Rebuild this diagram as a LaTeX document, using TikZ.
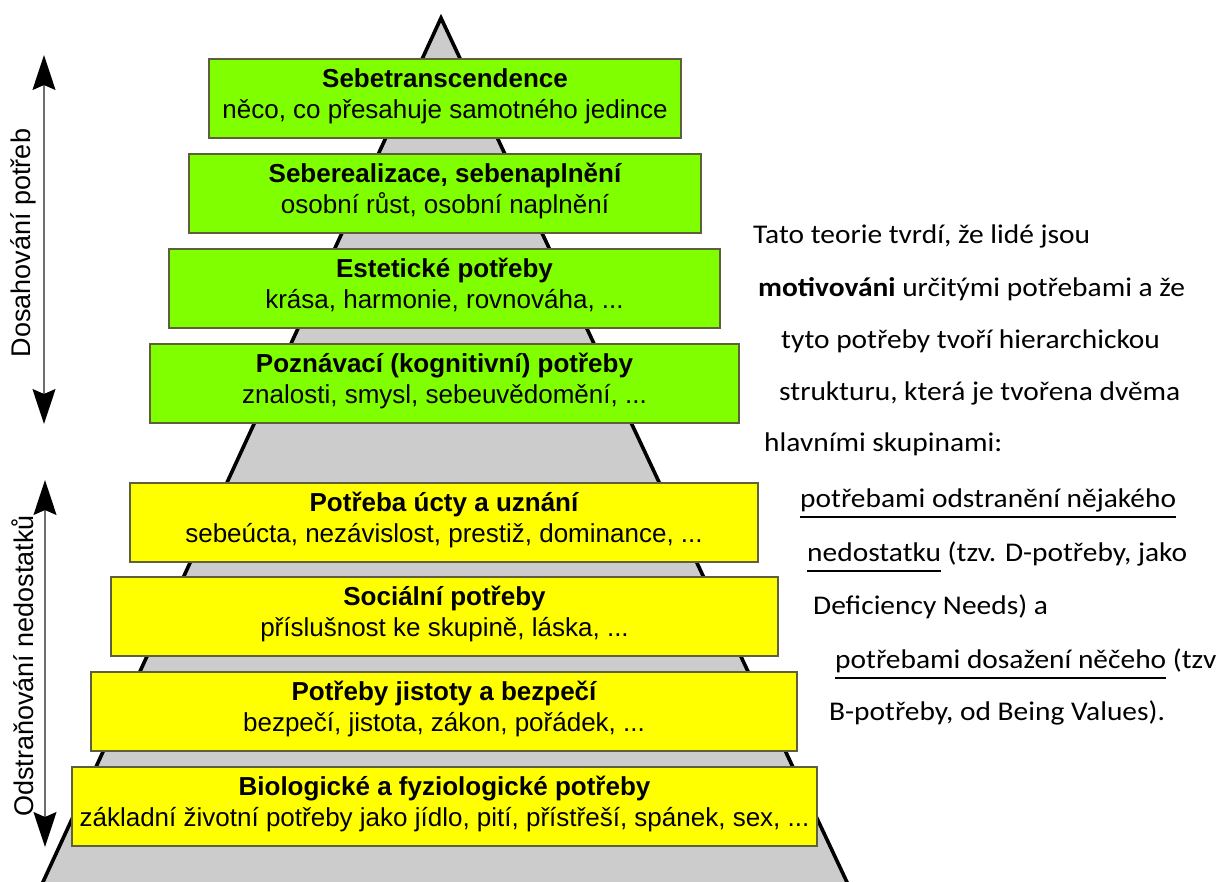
\documentclass[tikz,border=0pt]{standalone}
\usepackage{fontspec}
\setmainfont{Liberation Sans}
\newfontfamily\rtfont[FakeStretch=1.09]{Carlito}
\usetikzlibrary{arrows.meta,calc}
\definecolor{pgreen}{RGB}{128,255,0}
\definecolor{pyellow}{RGB}{255,255,0}
\definecolor{pgrey}{RGB}{204,204,204}
\definecolor{pborder}{RGB}{95,95,60}
\definecolor{arrline}{RGB}{110,110,110}
\newcommand{\myul}[1]{\setbox0\hbox{#1}\rlap{\rule[-11pt]{\wd0}{1.6pt}}\box0\relax}
\begin{document}
\begin{tikzpicture}[x=1pt,y=-1pt,
  lvl/.style={draw=pborder, line width=1.3pt, minimum width=#1, minimum height=79pt, inner sep=0pt},
  gbox/.style={lvl=#1, fill=pgreen},
  ybox/.style={lvl=#1, fill=pyellow},
  ttl/.style={font=\fontsize{26}{30}\selectfont\bfseries, anchor=base, inner sep=0pt},
  sub/.style={font=\fontsize{26}{30}\selectfont, anchor=base, inner sep=0pt},
  side/.style={font=\fontsize{27}{32}\selectfont, rotate=90, inner sep=0pt},
  rt/.style={font=\rtfont\fontsize{27}{30}\selectfont, anchor=base west, inner sep=0pt},
  bigtip/.tip={Stealth[length=35pt,width=23pt,inset=5pt,color=black,fill=black]},
  sidearrow/.style={draw=arrline, line width=1.3pt, bigtip-bigtip}
]
\useasboundingbox (0,0) rectangle (1222,881);
\begin{scope}
\clip (0,0) rectangle (1222,881);
\coordinate (apex) at (441,18);
\coordinate (bl) at (37,895);
\coordinate (br) at (853,895);
\filldraw[fill=pgrey, draw=black, line width=3.6pt, line join=miter] (bl) -- (apex) -- (br) -- cycle;
\end{scope}

% boxes
\node[gbox=472pt] (b1) at (445,98.5) {};
\node[gbox=512pt] (b2) at (445,193.5) {};
\node[gbox=551pt] (b3) at (444.5,288.5) {};
\node[gbox=589pt] (b4) at (444.5,383.5) {};
\node[ybox=628pt] (b5) at (444,522.5) {};
\node[ybox=667pt] (b6) at (444.5,616.5) {};
\node[ybox=706pt] (b7) at (444,711.5) {};
\node[ybox=745pt] (b8) at (444.5,806.5) {};

\node[ttl] (t1) at ($(b1.north)+(0,29)$) {Sebetranscendence};
\node[sub] (s1) at ($(b1.north)+(0,60)$) {něco, co přesahuje samotného jedince};
\node[ttl] (t2) at ($(b2.north)+(0,29)$) {Seberealizace, sebenaplnění};
\node[sub] (s2) at ($(b2.north)+(0,60)$) {osobní růst, osobní naplnění};
\node[ttl] (t3) at ($(b3.north)+(0,29)$) {Estetické potřeby};
\node[sub] (s3) at ($(b3.north)+(0,60)$) {krása, harmonie, rovnováha, ...};
\node[ttl] (t4) at ($(b4.north)+(0,29)$) {Poznávací (kognitivní) potřeby};
\node[sub] (s4) at ($(b4.north)+(0,60)$) {znalosti, smysl, sebeuvědomění, ...};
\node[ttl] (t5) at ($(b5.north)+(0,29)$) {Potřeba úcty a uznání};
\node[sub] (s5) at ($(b5.north)+(0,60)$) {sebeúcta, nezávislost, prestiž, dominance, ...};
\node[ttl] (t6) at ($(b6.north)+(0,29)$) {Sociální potřeby};
\node[sub] (s6) at ($(b6.north)+(0,60)$) {příslušnost ke skupině, láska, ...};
\node[ttl] (t7) at ($(b7.north)+(0,29)$) {Potřeby jistoty a bezpečí};
\node[sub] (s7) at ($(b7.north)+(0,60)$) {bezpečí, jistota, zákon, pořádek, ...};
\node[ttl] (t8) at ($(b8.north)+(0,29)$) {Biologické a fyziologické potřeby};
\node[sub] (s8) at ($(b8.north)+(0,60)$) {základní životní potřeby jako jídlo, pití, přístřeší, spánek, sex, ...};

% side arrows
\coordinate (a1t) at (44,55);
\coordinate (a1b) at (44,424);
\coordinate (a2t) at (45,480);
\coordinate (a2b) at (45,847);
\draw[sidearrow] (a1t) -- (a1b);
\draw[sidearrow] (a2t) -- (a2b);
\node[side] (l1) at (23,243) {Dosahování potřeb};
\node[side] (l2) at (23,666) {Odstraňování nedostatků};

% right text
\node[rt] (r1) at (753,243) {Tato teorie tvrdí, že lidé jsou};
\node[rt] (r2) at (758,296) {\textbf{motivováni} určitými potřebami a že};
\node[rt] (r3) at (781,348) {tyto potřeby tvoří hierarchickou};
\node[rt] (r4) at (779,400) {strukturu, která je tvořena dvěma};
\node[rt] (r5) at (764,451) {hlavními skupinami:};
\node[rt] (r6) at (800,507) {\myul{potřebami odstranění nějakého}};
\node[rt] (r7) at (807,561) {\myul{nedostatku} (tzv. D-potřeby, jako};
\node[rt] (r8) at (813,614) {Deficiency Needs) a};
\node[rt] (r9) at (835,668) {\myul{potřebami dosažení něčeho} (tzv};
\node[rt] (r10) at (829,720) {B-potřeby, od Being Values).};
\end{tikzpicture}
\end{document}
